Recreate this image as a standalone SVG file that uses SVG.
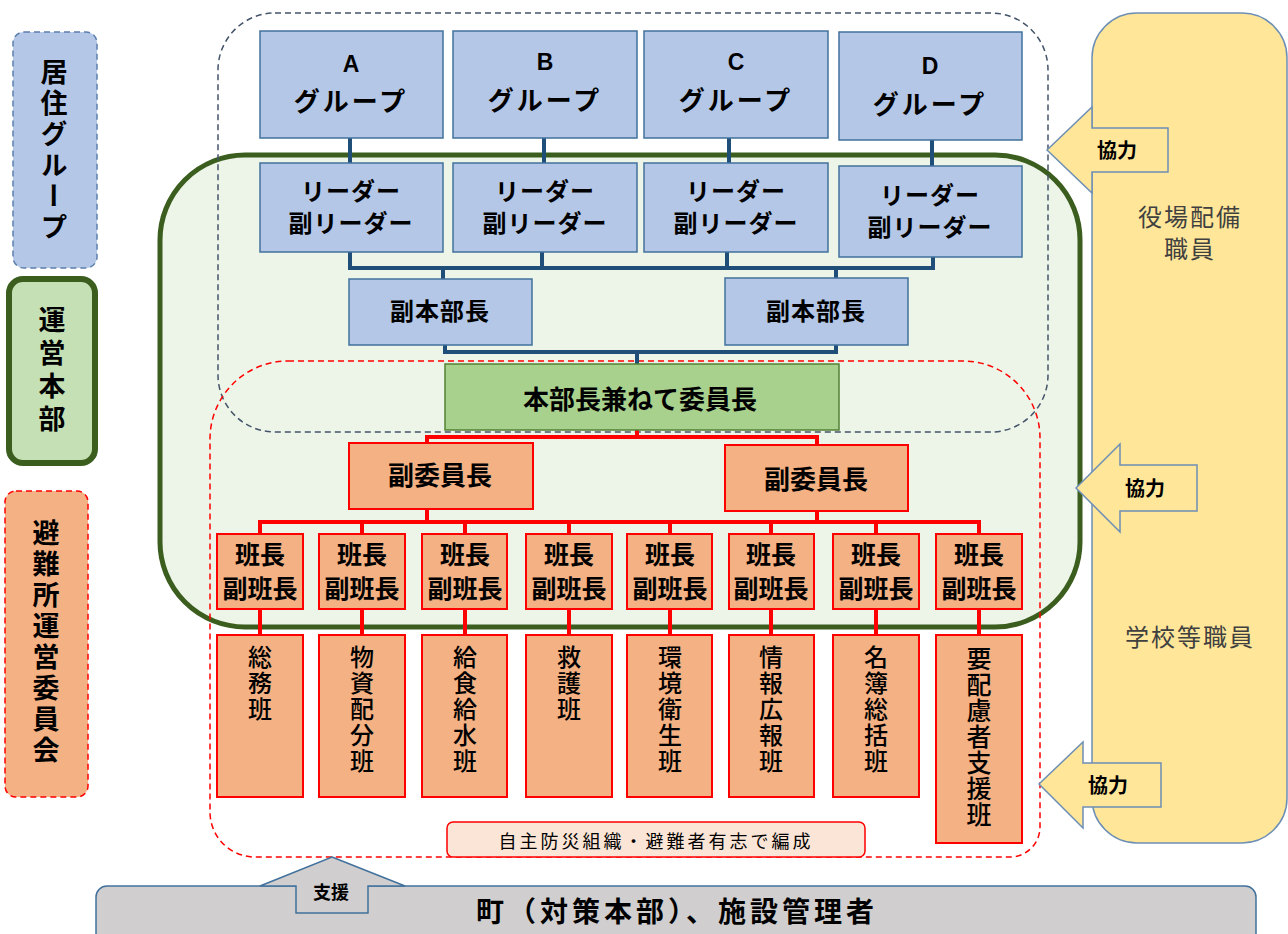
<svg xmlns="http://www.w3.org/2000/svg" width="1288" height="934" viewBox="0 0 1288 934">
<style>
text{font-family:"Noto Sans CJK JP","Noto Sans",sans-serif;fill:#000;dominant-baseline:central;text-anchor:middle}
.b{font-weight:bold}
.ltr{font-family:"Liberation Sans","Noto Sans CJK JP",sans-serif;font-weight:bold;font-size:23px}
.vt{writing-mode:vertical-rl;text-orientation:upright;text-anchor:start}
.blue{fill:#b4c7e7;stroke:#41719c;stroke-width:1.5}
.grn{fill:#a9d18e;stroke:#538135;stroke-width:1.5}
.org{fill:#f4b183;stroke:#ff0000;stroke-width:2}
.yel{fill:#ffe699;stroke:#6d8fb5;stroke-width:1.5}
.cb{stroke:#1f4e79;stroke-width:4;fill:none}
.cr{stroke:#ff0000;stroke-width:4;fill:none}
.col{font-size:24px;letter-spacing:2px;font-weight:500}
.lab{font-size:20px;font-weight:bold}
</style>
<rect width="1288" height="934" fill="#fff"/>

<!-- legend -->
<g id="legend-residence">
<rect x="13" y="32" width="84" height="236" rx="11" fill="#b4c7e7" stroke="#5b7fad" stroke-width="1.5" stroke-dasharray="6 4"/>
<text class="vt b" x="54" y="58" style="font-size:27px;letter-spacing:4px">居住グループ</text>
</g>
<g id="legend-hq">
<rect x="9" y="279" width="86" height="184" rx="14" fill="#c5e0b4" stroke="#3b5e1f" stroke-width="6"/>
<text class="vt b" x="52" y="306" style="font-size:27px;letter-spacing:6px">運営本部</text>
</g>
<g id="legend-committee">
<rect x="5" y="491" width="83" height="306" rx="11" fill="#f4b183" stroke="#ff0000" stroke-width="1.5" stroke-dasharray="6 4"/>
<text class="vt b" x="46" y="519" style="font-size:27px;letter-spacing:4px">避難所運営委員会</text>
</g>

<!-- regions -->
<g id="region-hq">
<rect x="160" y="155" width="920" height="472" rx="85" fill="#edf5e8" stroke="#3b5e1f" stroke-width="5"/>
</g>
<g id="region-residence">
<rect x="218" y="13" width="830" height="419" rx="57" fill="none" stroke="#44546a" stroke-width="1.5" stroke-dasharray="6 4"/>
</g>
<g id="region-committee">
<path d="M288 361 H963 A77 77 0 0 1 1040 438 V827 A30 30 0 0 1 1010 857 H255 A45 45 0 0 1 210 812 V439 A78 78 0 0 1 288 361 Z" fill="none" stroke="#ff0000" stroke-width="1.5" stroke-dasharray="6 4"/>
</g>

<!-- staff -->
<g id="staff">
<rect x="1092" y="13" width="195" height="830" rx="45" fill="#ffe699" stroke="#6d8fb5" stroke-width="1.5"/>
<text x="1190" y="215" style="font-size:24px;fill:#404040;letter-spacing:2px">役場配備</text>
<text x="1190" y="247" style="font-size:24px;fill:#404040;letter-spacing:2px">職員</text>
<text x="1190" y="635" style="font-size:24px;fill:#404040;letter-spacing:2px">学校等職員</text>
</g>

<!-- connectors -->
<g id="connectors">
<path class="cb" d="M350 138V163M544 138V163M729 136V163M932 140V166"/>
<path class="cb" d="M350 252V268H933V257M542 252V268M727 252V268M443 268V279M836 268V278"/>
<path class="cb" d="M445 345V352H836V345M637 352V364"/>
<path class="cr" d="M637 430V437M427 444V437H817V445"/>
<path class="cr" d="M427 509V522M817 511V522M260 534V522H979V534M362 522V534M465 522V534M569 522V534M670 522V534M771 522V534M876 522V534"/>
<path class="cr" d="M260 609V635M362 609V635M465 609V635M569 609V635M670 609V635M771 609V635M876 609V635M979 609V635"/>
</g>

<!-- groups -->
<g id="group-a"><rect class="blue" x="260" y="31" width="183" height="107"/><text class="ltr" x="351" y="64">A</text><text class="b" x="351" y="99" style="font-size:26px;letter-spacing:3px">グループ</text></g>
<g id="group-b"><rect class="blue" x="453" y="31" width="184" height="107"/><text class="ltr" x="545" y="62">B</text><text class="b" x="545" y="98" style="font-size:26px;letter-spacing:3px">グループ</text></g>
<g id="group-c"><rect class="blue" x="644" y="31" width="184" height="107"/><text class="ltr" x="736" y="62">C</text><text class="b" x="736" y="98" style="font-size:26px;letter-spacing:3px">グループ</text></g>
<g id="group-d"><rect class="blue" x="839" y="32" width="183" height="108"/><text class="ltr" x="930" y="66">D</text><text class="b" x="930" y="102" style="font-size:26px;letter-spacing:3px">グループ</text></g>

<g id="leader-a"><rect class="blue" x="260" y="163" width="183" height="89"/><text class="b" x="351" y="189" style="font-size:24px;letter-spacing:1px">リーダー</text><text class="b" x="351" y="221" style="font-size:24px;letter-spacing:1px">副リーダー</text></g>
<g id="leader-b"><rect class="blue" x="453" y="163" width="184" height="89"/><text class="b" x="545" y="189" style="font-size:24px;letter-spacing:1px">リーダー</text><text class="b" x="545" y="221" style="font-size:24px;letter-spacing:1px">副リーダー</text></g>
<g id="leader-c"><rect class="blue" x="644" y="163" width="184" height="89"/><text class="b" x="736" y="189" style="font-size:24px;letter-spacing:1px">リーダー</text><text class="b" x="736" y="221" style="font-size:24px;letter-spacing:1px">副リーダー</text></g>
<g id="leader-d"><rect class="blue" x="839" y="166" width="183" height="91"/><text class="b" x="930" y="193" style="font-size:24px;letter-spacing:1px">リーダー</text><text class="b" x="930" y="225" style="font-size:24px;letter-spacing:1px">副リーダー</text></g>

<g id="vice-hq-1"><rect class="blue" x="349" y="279" width="183" height="66"/><text class="b" x="440" y="309" style="font-size:24px;letter-spacing:1px">副本部長</text></g>
<g id="vice-hq-2"><rect class="blue" x="725" y="278" width="183" height="67"/><text class="b" x="816" y="309" style="font-size:24px;letter-spacing:1px">副本部長</text></g>

<g id="chief"><rect class="grn" x="445" y="364" width="394" height="66"/><text class="b" x="640" y="397" style="font-size:26px">本部長兼ねて委員長</text></g>

<g id="vice-chair-1"><rect class="org" x="349" y="443" width="184" height="66"/><text class="b" x="440" y="473" style="font-size:26px">副委員長</text></g>
<g id="vice-chair-2"><rect class="org" x="725" y="445" width="183" height="66"/><text class="b" x="816" y="477" style="font-size:26px">副委員長</text></g>

<!-- team leaders -->
<g id="lead-1"><rect class="org" x="217" y="534" width="86" height="75"/><text class="b" x="260" y="553" style="font-size:25px">班長</text><text class="b" x="260" y="587" style="font-size:25px">副班長</text></g>
<g id="lead-2"><rect class="org" x="319" y="534" width="86" height="75"/><text class="b" x="362" y="553" style="font-size:25px">班長</text><text class="b" x="362" y="587" style="font-size:25px">副班長</text></g>
<g id="lead-3"><rect class="org" x="422" y="534" width="85" height="75"/><text class="b" x="465" y="553" style="font-size:25px">班長</text><text class="b" x="465" y="587" style="font-size:25px">副班長</text></g>
<g id="lead-4"><rect class="org" x="526" y="534" width="86" height="75"/><text class="b" x="569" y="553" style="font-size:25px">班長</text><text class="b" x="569" y="587" style="font-size:25px">副班長</text></g>
<g id="lead-5"><rect class="org" x="627" y="534" width="85" height="75"/><text class="b" x="670" y="553" style="font-size:25px">班長</text><text class="b" x="670" y="587" style="font-size:25px">副班長</text></g>
<g id="lead-6"><rect class="org" x="729" y="534" width="85" height="75"/><text class="b" x="771" y="553" style="font-size:25px">班長</text><text class="b" x="771" y="587" style="font-size:25px">副班長</text></g>
<g id="lead-7"><rect class="org" x="833" y="534" width="86" height="75"/><text class="b" x="876" y="553" style="font-size:25px">班長</text><text class="b" x="876" y="587" style="font-size:25px">副班長</text></g>
<g id="lead-8"><rect class="org" x="936" y="534" width="86" height="75"/><text class="b" x="979" y="553" style="font-size:25px">班長</text><text class="b" x="979" y="587" style="font-size:25px">副班長</text></g>

<!-- teams -->
<g id="team-1"><rect class="org" x="217" y="635" width="86" height="162"/><text class="vt col" x="260" y="645">総務班</text></g>
<g id="team-2"><rect class="org" x="319" y="635" width="86" height="162"/><text class="vt col" x="362" y="645">物資配分班</text></g>
<g id="team-3"><rect class="org" x="422" y="635" width="85" height="162"/><text class="vt col" x="465" y="645">給食給水班</text></g>
<g id="team-4"><rect class="org" x="526" y="635" width="86" height="162"/><text class="vt col" x="569" y="645">救護班</text></g>
<g id="team-5"><rect class="org" x="627" y="635" width="85" height="162"/><text class="vt col" x="670" y="645">環境衛生班</text></g>
<g id="team-6"><rect class="org" x="729" y="635" width="85" height="162"/><text class="vt col" x="771" y="645">情報広報班</text></g>
<g id="team-7"><rect class="org" x="833" y="635" width="86" height="162"/><text class="vt col" x="876" y="645">名簿総括班</text></g>
<g id="team-8"><rect class="org" x="936" y="635" width="86" height="208"/><text class="vt" x="979" y="646" style="font-size:25px;letter-spacing:1px;font-weight:500">要配慮者支援班</text></g>

<g id="note"><rect x="447" y="822" width="418" height="35" rx="6" fill="#fbe5d6" stroke="#ff0000" stroke-width="1.5"/><text x="656" y="840" style="font-size:18px;letter-spacing:3px">自主防災組織・避難者有志で編成</text></g>

<!-- cooperation arrows -->
<g id="coop-1"><polygon class="yel" points="1047,150 1092,107 1092,128 1168,128 1168,172 1092,172 1092,193"/><text class="lab" x="1117" y="149">協力</text></g>
<g id="coop-2"><polygon class="yel" points="1076,488 1120,444 1120,465 1197,465 1197,511 1120,511 1120,532"/><text class="lab" x="1145" y="487">協力</text></g>
<g id="coop-3"><polygon class="yel" points="1039,784 1083,742 1083,763 1161,763 1161,807 1083,807 1083,828"/><text class="lab" x="1108" y="784">協力</text></g>

<!-- bottom bar -->
<g id="town">
<rect x="96" y="886" width="1160" height="70" rx="11" fill="#d0cece" stroke="#41719c" stroke-width="1.5"/>
<text class="b" x="675" y="910" textLength="398" lengthAdjust="spacing" style="font-size:28px">町（対策本部）、施設管理者</text>
</g>
<g id="support">
<polygon points="332,857 405,886 368,886 368,913 296,913 296,886 260,886" fill="#d0cece" stroke="#41719c" stroke-width="1.5"/>
<text x="331" y="891" style="font-size:18px;font-weight:bold">支援</text>
</g>
</svg>
